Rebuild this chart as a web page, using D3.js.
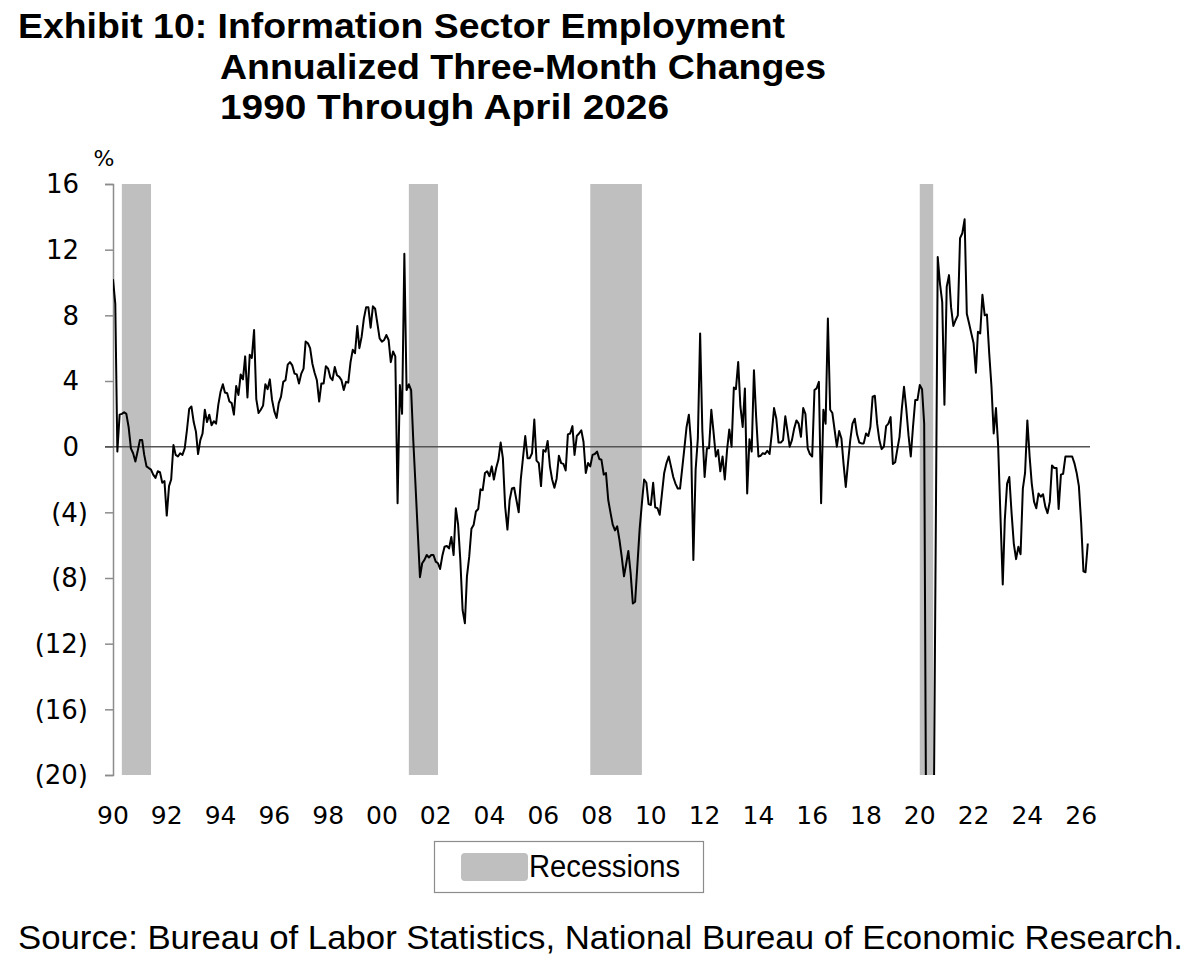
<!DOCTYPE html>
<html>
<head>
<meta charset="utf-8">
<script src="https://cdn.jsdelivr.net/npm/d3@7"></script>
<style>
  body { margin: 0; background: #fff; }
  svg { display: block; }
</style>
</head>
<body>
<div id="chart"></div>
<script>
/* DATA */
// annualized three-month % change, monthly, starting Jan 1990
const startMonth = "1990-01";
const changes = [
  10.2, 8.7, -0.3, 1.95, 2.0, 2.1, 2.0, 1.2, -0.1, -0.4, -0.9, -0.3,          // 1990
  0.4, 0.4, -0.5, -1.2, -1.3, -1.4, -1.7, -1.9, -1.5, -1.55, -2.2, -2.1,      // 1991
  -4.2, -2.4, -2.0, 0.1, -0.5, -0.6, -0.4, -0.5, -0.1, 1.0, 2.3, 2.45,        // 1992
  1.5, 0.9, -0.45, 0.4, 0.8, 2.25, 1.5, 1.95, 1.3, 1.55, 1.4, 2.55,           // 1993
  3.35, 3.8, 3.3, 3.25, 2.75, 2.65, 1.95, 3.7, 3.15, 4.4, 4.1, 5.5,           // 1994
  3.0, 5.6, 5.4, 7.1, 2.9, 2.05, 2.25, 2.5, 3.8, 3.5, 4.1, 2.85,              // 1995
  2.15, 1.75, 2.65, 3.05, 3.95, 4.05, 5.0, 5.15, 4.95, 4.45, 4.4, 3.85,       // 1996
  4.45, 4.75, 6.4, 6.3, 6.0, 5.05, 4.5, 4.05, 2.75, 3.85, 3.85, 4.9,          // 1997
  4.75, 4.2, 4.05, 4.85, 4.35, 4.25, 4.05, 3.45, 3.95, 3.9, 5.15, 5.9,        // 1998
  5.7, 7.35, 6.0, 6.7, 7.8, 8.5, 8.5, 7.25, 8.55, 8.4, 7.5, 6.6,              // 1999
  6.4, 6.5, 6.8, 6.5, 5.15, 5.8, 5.5, -3.45, 3.75, 2.0, 11.75, 3.45,          // 2000
  3.8, 3.45, 0.5, -2.3, -5.1, -7.95, -7.1, -6.9, -6.6, -6.75, -6.6, -6.6,     // 2001
  -7.0, -7.1, -7.45, -6.65, -6.1, -6.05, -6.2, -5.5, -6.6, -3.75, -4.75, -6.9, // 2002
  -9.95, -10.75, -7.9, -6.7, -5.0, -4.75, -3.95, -3.8, -2.6, -2.65, -1.6, -1.5, // 2003
  -1.8, -1.2, -2.0, -1.3, -0.8, 0.25, -0.7, -3.65, -5.05, -3.25, -2.55, -2.5, // 2004
  -3.25, -4.0, -2.0, -0.65, 0.65, -0.7, -0.7, -0.4, 1.65, -0.85, -1.0, -2.4,  // 2005
  -0.2, -0.3, 0.35, -1.2, -2.0, -2.5, -1.95, -0.55, -1.0, -1.05, -1.45, 0.75, // 2006
  0.8, 1.25, -0.5, 0.65, 0.8, 1.0, 0.3, -1.6, -1.0, -1.2, -0.5, -0.45,        // 2007
  -0.3, -0.75, -0.8, -1.7, -1.6, -3.25, -4.0, -4.75, -5.1, -4.85, -5.7, -6.7, // 2008
  -7.9, -7.1, -6.35, -7.7, -9.55, -9.45, -7.3, -5.05, -3.45, -2.0, -2.2, -3.5, // 2009
  -3.55, -2.2, -3.7, -3.75, -4.15, -2.85, -1.6, -1.0, -0.6, -1.2, -1.85, -2.25, // 2010
  -2.55, -2.55, -1.4, -0.1, 1.2, 1.95, 0.2, -6.9, -1.4, 0.5, 6.9, 1.0,        // 2011
  -1.85, -0.1, -0.1, 2.25, 0.9, -0.6, -0.2, -1.5, -0.6, -2.0, -0.2, 1.05,     // 2012
  0.0, 3.6, 3.5, 5.15, 2.45, 1.2, 3.55, -2.85, 0.45, -0.3, 4.65, 1.8,         // 2013
  -0.6, -0.55, -0.4, -0.45, -0.25, -0.45, 0.8, 2.35, 1.7, 0.25, 0.25, 0.4,    // 2014
  1.85, 0.9, 0.0, 0.4, 1.1, 1.6, 1.4, 0.6, 2.35, 2.0, -0.1, -0.45,            // 2015
  -0.6, 3.45, 3.55, 3.95, -3.45, 2.25, 1.4, 7.8, 2.25, 2.05, 1.0, 0.0,        // 2016
  0.95, 0.5, -1.0, -2.45, -1.0, 0.4, 1.4, 1.7, 0.75, 0.25, 0.2, 0.2,          // 2017
  0.8, 0.65, 1.2, 3.05, 3.1, 1.4, 0.4, -0.15, 0.0, 1.25, 1.4, 1.8,            // 2018
  -1.05, -0.95, -0.2, 0.6, 2.25, 3.65, 2.35, 0.7, -0.6, 1.2, 2.85, 2.85,      // 2019
  3.75, 3.5, 1.4, -28, -45, -40, -28, -8, 11.55, 9.95, 8.8, 2.55,             // 2020
  9.75, 10.45, 8.5, 7.35, 7.7, 8.0, 12.7, 13.0, 13.85, 8.1, 7.5, 6.9,         // 2021
  6.3, 4.5, 7.0, 6.9, 9.25, 8.0, 8.05, 5.7, 3.65, 0.8, 2.35, 0.0,             // 2022
  -4.25, -8.4, -4.45, -2.25, -1.85, -4.05, -5.9, -6.85, -6.1, -6.55, -2.55, -1.6, // 2023
  1.6, -0.6, -2.25, -3.35, -3.75, -2.85, -3.05, -2.9, -3.65, -4.05, -3.35, -1.15, // 2024
  -1.3, -1.3, -3.8, -1.7, -1.65, -0.6, -0.6, -0.6, -0.6, -1.0, -1.6, -2.4,    // 2025
  -4.65, -7.6, -7.65, -5.9                                                     // 2026
];

// shaded recession periods (as drawn)
const recessionStart = ["1990-05", "2001-01", "2007-10", "2020-01"];
const recessionEnd   = ["1991-06", "2002-02", "2009-09", "2020-07"];

const yTicks = [16, 12, 8, 4, 0, -4, -8, -12, -16, -20];
const xTickYears = d3.range(1990, 2027, 2);

const titleLines = [
  "Exhibit 10: Information Sector Employment",
  "Annualized Three-Month Changes",
  "1990 Through April 2026"
];
const legendLabel = "Recessions";
const sourceText = "Source: Bureau of Labor Statistics, National Bureau of Economic Research.";

/* LAYOUT */
const width = 1200, height = 966;
const plot = { left: 113, right: 1090, top: 184, bottom: 775 };

const parseMonth = d3.timeParse("%Y-%m");
const start = parseMonth(startMonth);
const series = changes.map((v, i) => ({ date: d3.timeMonth.offset(start, i), value: v }));

const svg = d3.select("#chart")
  .append("svg")
  .attr("width", width)
  .attr("height", height);

const xScale = d3.scaleTime()
  .domain([start, parseMonth("2026-05")])
  .range([plot.left, plot.right]);

const yScale = d3.scaleLinear()
  .domain([-20, 16])
  .range([plot.bottom, plot.top]);

/* TITLE */
const textFont = "'Liberation Sans', Arial, sans-serif";
const titleX = [18, 220, 220];
const titleLen = [767, 606, 449];
const titleY = [38, 79, 119];
svg.selectAll("text.title")
  .data(titleLines)
  .join("text")
  .attr("class", "title")
  .attr("x", (d, i) => titleX[i])
  .attr("y", (d, i) => titleY[i])
  .attr("textLength", (d, i) => titleLen[i])
  .attr("lengthAdjust", "spacingAndGlyphs")
  .style("font-family", textFont)
  .style("font-weight", 700)
  .style("font-size", "35px")
  .attr("fill", "#000")
  .text(d => d);

/* RECESSION BARS */
svg.selectAll("rect.recession")
  .data(recessionStart.map((s, i) => [parseMonth(s), parseMonth(recessionEnd[i])]))
  .join("rect")
  .attr("class", "recession")
  .attr("x", d => xScale(d[0]))
  .attr("width", d => xScale(d[1]) - xScale(d[0]))
  .attr("y", plot.top)
  .attr("height", plot.bottom - plot.top)
  .attr("fill", "#bfbfbf");

/* Y AXIS */
const tickFont = "'DejaVu Sans', sans-serif";
const yAxis = d3.axisLeft(yScale)
  .tickValues(yTicks)
  .tickSize(8)
  .tickFormat("");
const yAxisGroup = svg.append("g")
  .attr("class", "y-axis")
  .attr("transform", `translate(${plot.left},0)`)
  .call(yAxis);
yAxisGroup.select(".domain").attr("stroke", "#8c8c8c").attr("stroke-width", 1.5);
yAxisGroup.selectAll(".tick line").attr("stroke", "#8c8c8c").attr("stroke-width", 1.5);

// labels: negatives in parentheses, positives padded by a paren width
svg.selectAll("text.ylab")
  .data(yTicks)
  .join("text")
  .attr("class", "ylab")
  .attr("x", d => d < 0 ? 88 : 79)
  .attr("y", d => yScale(d))
  .attr("dy", "0.36em")
  .attr("text-anchor", "end")
  .style("font-family", tickFont)
  .style("font-size", "26px")
  .text(d => d < 0 ? `(${-d})` : d);

svg.append("text")
  .attr("x", 104)
  .attr("y", 166)
  .attr("text-anchor", "middle")
  .style("font-family", tickFont)
  .style("font-size", "22px")
  .text("%");

/* X LABELS */
svg.selectAll("text.xlab")
  .data(xTickYears)
  .join("text")
  .attr("class", "xlab")
  .attr("x", d => xScale(new Date(d, 0, 1)))
  .attr("y", 824)
  .attr("text-anchor", "middle")
  .style("font-family", tickFont)
  .style("font-size", "25px")
  .text(d => d3.format("02")(d % 100));

/* ZERO LINE */
svg.append("line")
  .attr("x1", plot.left - 8)
  .attr("x2", plot.right)
  .attr("y1", yScale(0))
  .attr("y2", yScale(0))
  .attr("stroke", "#555")
  .attr("stroke-width", 1.5);

/* SERIES LINE */
svg.append("clipPath")
  .attr("id", "plot-clip")
  .append("rect")
  .attr("x", plot.left)
  .attr("y", plot.top - 2)
  .attr("width", plot.right - plot.left + 4)
  .attr("height", plot.bottom - plot.top + 2);

const lineGen = d3.line()
  .x(d => xScale(d.date))
  .y(d => yScale(d.value));

svg.append("path")
  .datum(series)
  .attr("clip-path", "url(#plot-clip)")
  .attr("fill", "none")
  .attr("stroke", "#000")
  .attr("stroke-width", 2)
  .attr("stroke-linejoin", "round")
  .attr("d", lineGen);

/* LEGEND */
const legend = svg.append("g").attr("class", "legend");
legend.append("rect")
  .attr("x", 434.5).attr("y", 841.5)
  .attr("width", 269).attr("height", 51)
  .attr("fill", "#fff")
  .attr("stroke", "#8c8c8c")
  .attr("stroke-width", 1.2);
legend.append("rect")
  .attr("x", 461).attr("y", 853)
  .attr("width", 67).attr("height", 28)
  .attr("rx", 4)
  .attr("fill", "#bfbfbf");
legend.append("text")
  .attr("x", 529).attr("y", 877)
  .attr("textLength", 151)
  .attr("lengthAdjust", "spacingAndGlyphs")
  .style("font-family", textFont)
  .style("font-size", "31px")
  .text(legendLabel);

/* SOURCE */
svg.append("text")
  .attr("x", 18).attr("y", 949)
  .attr("textLength", 1165)
  .attr("lengthAdjust", "spacingAndGlyphs")
  .style("font-family", textFont)
  .style("font-size", "33px")
  .text(sourceText);
</script>
</body>
</html>
